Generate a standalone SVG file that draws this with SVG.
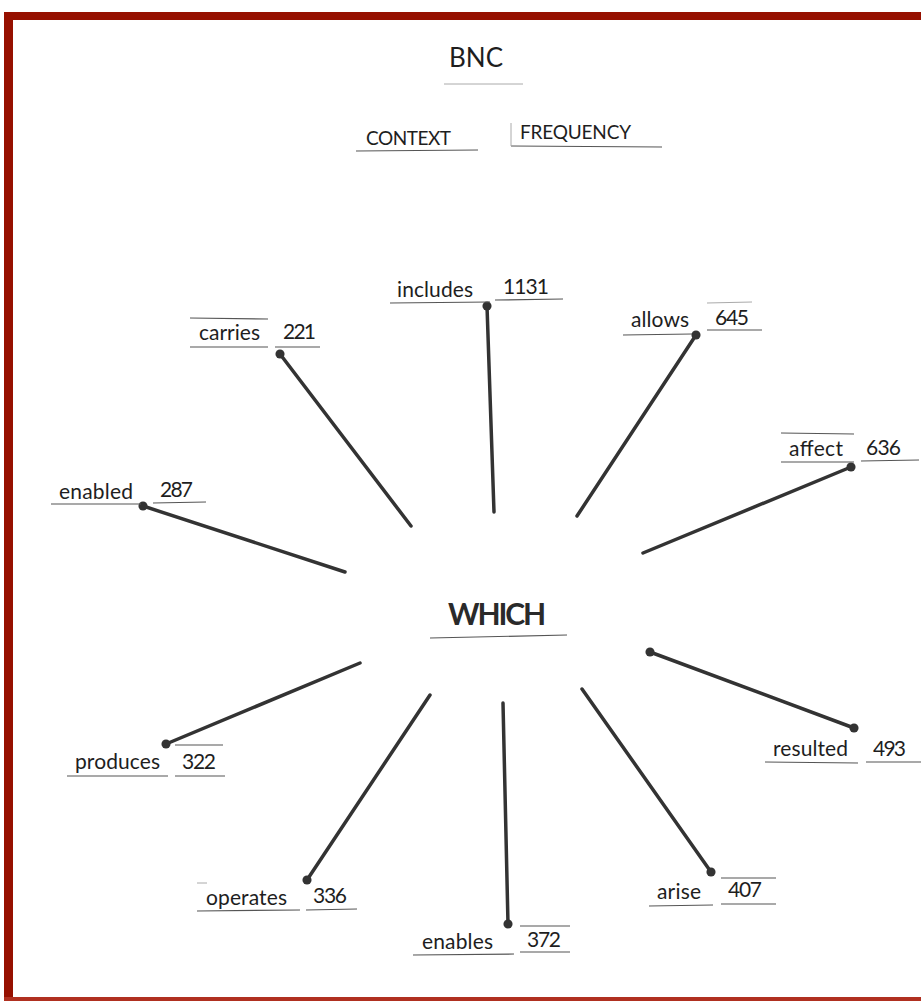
<svg xmlns="http://www.w3.org/2000/svg" width="921" height="1001" viewBox="0 0 921 1001">
<defs>
<style>
.t{font-family:Lato,"Open Sans","Liberation Sans",sans-serif;font-size:21px;fill:#1e1e1e}
.h{font-family:Lato,"Open Sans","Liberation Sans",sans-serif;font-size:30px;font-weight:bold;fill:#2a2a2a}
.u{stroke:#555;stroke-width:1.2;fill:none}
.o{stroke:#aaa;stroke-width:1;fill:none}
.c{stroke:#333;stroke-width:3.5;fill:none;stroke-linecap:round}
</style>
<marker id="dot" viewBox="0 0 10 10" refX="5" refY="5" markerWidth="2.6" markerHeight="2.6" markerUnits="strokeWidth"><circle cx="5" cy="5" r="5" fill="#333"/></marker>
</defs>
<rect width="921" height="1001" fill="#fff"/>
<g id="frame">
<rect x="4" y="12" width="9" height="989" fill="#961000"/>
<rect x="4" y="12" width="917" height="8" fill="#961000"/>
<rect x="4" y="997" width="917" height="4" fill="#b03020"/>
</g>
<g id="connectors">
<line class="c" x1="487" y1="306" x2="494" y2="512" marker-start="url(#dot)"/>
<line class="c" x1="280" y1="354" x2="411" y2="526" marker-start="url(#dot)"/>
<line class="c" x1="696" y1="335" x2="577" y2="516" marker-start="url(#dot)"/>
<line class="c" x1="851" y1="467" x2="643" y2="553" marker-start="url(#dot)"/>
<line class="c" x1="143" y1="506" x2="345" y2="572" marker-start="url(#dot)"/>
<line class="c" x1="166" y1="744" x2="360" y2="663" marker-start="url(#dot)"/>
<line class="c" x1="307" y1="880" x2="430" y2="695" marker-start="url(#dot)"/>
<line class="c" x1="508" y1="924" x2="503" y2="703" marker-start="url(#dot)"/>
<line class="c" x1="711" y1="872" x2="582" y2="689" marker-start="url(#dot)"/>
<line class="c" x1="854" y1="728" x2="650" y2="652" marker-start="url(#dot)" marker-end="url(#dot)"/>
</g>
<g id="bnc">
<text class="t" x="476" y="67" text-anchor="middle" style="font-size:26px">BNC</text>
<line class="o" x1="444" y1="84" x2="523" y2="84"/>
</g>
<g id="context">
<text class="t" x="366" y="145" textLength="85" style="font-size:19px">CONTEXT</text>
<line class="u" x1="356" y1="151" x2="478" y2="150"/>
</g>
<g id="frequency">
<text class="t" x="520" y="139" textLength="111" style="font-size:19px">FREQUENCY</text>
<line class="u" x1="511" y1="146" x2="662" y2="147"/>
<line class="o" x1="511" y1="123" x2="511" y2="146"/>
</g>
<g id="includes">
<text class="t" x="397" y="297" textLength="76">includes</text>
<line class="u" x1="390" y1="303" x2="490" y2="302"/>
<text class="t" x="503" y="294" textLength="46">1131</text>
<line class="u" x1="495" y1="300" x2="563" y2="299"/>
</g>
<g id="carries">
<text class="t" x="199" y="340" textLength="61">carries</text>
<line class="u" x1="190" y1="318" x2="268" y2="319"/>
<line class="u" x1="190" y1="347" x2="268" y2="347"/>
<text class="t" x="283" y="339" textLength="33">221</text>
<line class="u" x1="275" y1="347" x2="320" y2="347"/>
</g>
<g id="allows">
<text class="t" x="631" y="327" textLength="58">allows</text>
<line class="u" x1="623" y1="335" x2="692" y2="334"/>
<text class="t" x="715" y="325" textLength="34">645</text>
<line class="o" x1="707" y1="303" x2="752" y2="302"/>
<line class="u" x1="707" y1="330" x2="762" y2="330"/>
</g>
<g id="affect">
<text class="t" x="789" y="456" textLength="54">affect</text>
<line class="u" x1="781" y1="433" x2="854" y2="434"/>
<line class="u" x1="781" y1="462" x2="854" y2="462"/>
<text class="t" x="866" y="455" textLength="35">636</text>
<line class="u" x1="861" y1="461" x2="919" y2="460"/>
</g>
<g id="enabled">
<text class="t" x="59" y="499" textLength="74">enabled</text>
<line class="u" x1="51" y1="504" x2="141" y2="504"/>
<text class="t" x="160" y="497" textLength="33">287</text>
<line class="u" x1="153" y1="503" x2="206" y2="502"/>
</g>
<g id="which">
<text class="h" x="448" y="625" textLength="98">WHICH</text>
<line class="u" x1="430" y1="638" x2="567" y2="635"/>
</g>
<g id="produces">
<text class="t" x="75" y="769" textLength="85">produces</text>
<line class="u" x1="67" y1="776" x2="168" y2="776"/>
<text class="t" x="182" y="769" textLength="34">322</text>
<line class="u" x1="175" y1="745" x2="223" y2="745"/>
<line class="u" x1="175" y1="776" x2="225" y2="776"/>
</g>
<g id="resulted">
<text class="t" x="773" y="756" textLength="75">resulted</text>
<line class="u" x1="765" y1="762" x2="858" y2="763"/>
<text class="t" x="873" y="756" textLength="33">493</text>
<line class="u" x1="866" y1="762" x2="921" y2="762"/>
</g>
<g id="operates">
<text class="t" x="206" y="905" textLength="81">operates</text>
<line class="u" x1="197" y1="911" x2="300" y2="910"/>
<line class="o" x1="197" y1="883" x2="207" y2="883"/>
<text class="t" x="313" y="903" textLength="34">336</text>
<line class="u" x1="306" y1="910" x2="357" y2="909"/>
</g>
<g id="enables">
<text class="t" x="422" y="949" textLength="71">enables</text>
<line class="u" x1="413" y1="955" x2="514" y2="954"/>
<text class="t" x="527" y="947" textLength="34">372</text>
<line class="u" x1="520" y1="926" x2="570" y2="926"/>
<line class="u" x1="520" y1="952" x2="570" y2="952"/>
</g>
<g id="arise">
<text class="t" x="657" y="899" textLength="44">arise</text>
<line class="u" x1="649" y1="906" x2="713" y2="905"/>
<text class="t" x="728" y="897" textLength="34">407</text>
<line class="u" x1="721" y1="878" x2="776" y2="878"/>
<line class="u" x1="721" y1="904" x2="776" y2="904"/>
</g>
</svg>
